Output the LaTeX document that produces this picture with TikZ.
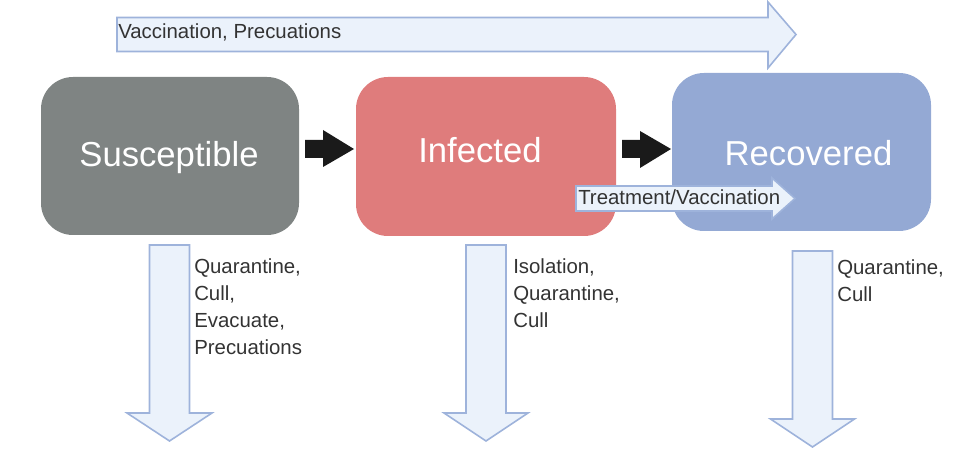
\documentclass[tikz,border=0pt]{standalone}
\usepackage{fontspec}
\setmainfont{Liberation Sans}
\definecolor{susgray}{HTML}{7F8483}
\definecolor{infred}{HTML}{DF7C7C}
\definecolor{recblue}{HTML}{94A9D4}
\definecolor{arrowfill}{HTML}{EBF2FB}
\definecolor{arrowline}{HTML}{9EB3DB}
\definecolor{textgray}{HTML}{333333}
\definecolor{arrowblack}{HTML}{1A1A1A}
\begin{document}
\begin{tikzpicture}[x=0.75pt,y=-0.75pt,
  box/.style={draw=none, rounded corners=24pt, inner sep=0pt},
  bigtxt/.style={text=white, font=\fontsize{26}{30}\selectfont, inner sep=0pt, anchor=base},
  lbl/.style={text=textgray, font=\fontsize{15.3}{20.25}\selectfont, inner sep=0pt, align=left, anchor=north west},
  arrtxt/.style={text=textgray, font=\fontsize{15.3}{20.25}\selectfont, inner sep=0pt, anchor=base west},
  blockarrow/.style={fill=arrowfill, draw=arrowline, line width=1.2pt, line join=miter},
  blackarrow/.style={fill=arrowblack, draw=none}]
\useasboundingbox (0,0) rectangle (970,466);

% compartments
\node[box, fill=susgray, minimum width=193.5pt, minimum height=118.5pt] (S) at (170,156) {};
\node[box, fill=infred, minimum width=195pt, minimum height=119.25pt] (I) at (486,156.5) {};
\node[box, fill=recblue, minimum width=194.25pt, minimum height=118.5pt] (R) at (801.5,152) {};
\node[bigtxt] (St) at (169,167) {Susceptible};
\node[bigtxt] (It) at (480,163) {Infected};
\node[bigtxt] (Rt) at (808.5,166) {Recovered};

% black transition arrows
\fill[blackarrow] (305,140) -- (323,140) -- (323,130) -- (354,149) -- (323,167) -- (323,158) -- (305,158) -- cycle;
\fill[blackarrow] (622,140) -- (640,140) -- (640,131) -- (671,149) -- (640,168) -- (640,158) -- (622,158) -- cycle;

% treatment arrow
\draw[blockarrow] (576,186) -- (772,186) -- (772,178) -- (795,198.5) -- (772,219) -- (772,211) -- (576,211) -- cycle;
\node[arrtxt] (Tt) at (578,205) {Treatment/Vaccination};

% top arrow
\draw[blockarrow] (117,17.5) -- (768,17.5) -- (768,2) -- (796,34.5) -- (768,68) -- (768,51.5) -- (117,51.5) -- cycle;
\node[arrtxt] (Vt) at (118,39) {Vaccination, Precuations};

% down arrows
\draw[blockarrow] (149.5,245) -- (189.5,245) -- (189.5,413) -- (212,413) -- (169.5,441) -- (127,413) -- (149.5,413) -- cycle;
\draw[blockarrow] (466,245) -- (506,245) -- (506,413) -- (528,413) -- (486,441) -- (444,413) -- (466,413) -- cycle;
\draw[blockarrow] (792.5,251) -- (832.5,251) -- (832.5,419) -- (854.5,419) -- (812.5,447) -- (770.5,419) -- (792.5,419) -- cycle;

% labels
\node[lbl] (L1) at (194,258) {Quarantine,\\Cull,\\Evacuate,\\Precuations};
\node[lbl] (L2) at (513,258) {Isolation,\\Quarantine,\\Cull};
\node[lbl] (L3) at (837,259) {Quarantine,\\Cull};
\end{tikzpicture}
\end{document}
